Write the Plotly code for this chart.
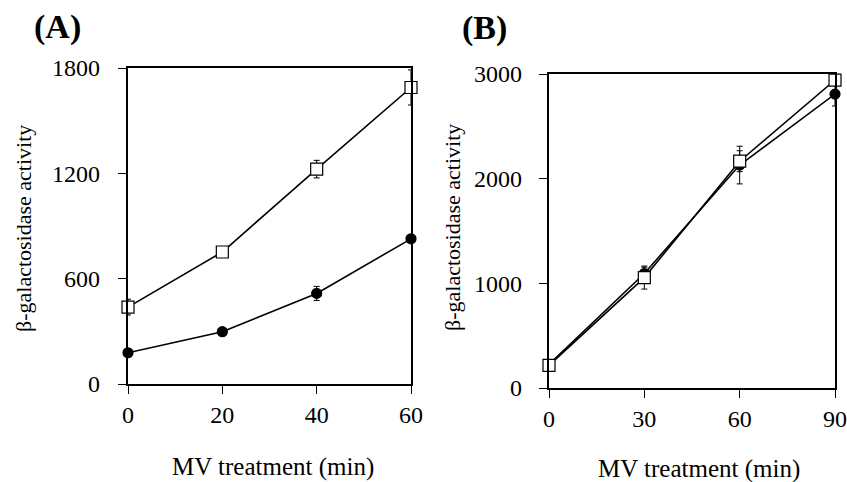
import plotly.graph_objects as go

# Panel A data
a_time = [0, 20, 40, 60]
a_open = [438, 752, 1224, 1689]
a_open_err = [45, 20, 50, 100]
a_filled = [178, 298, 516, 827]
a_filled_err = [15, 15, 40, 20]

# Panel B data
b_time = [0, 30, 60, 90]
b_open = [217, 1055, 2167, 2942]
b_open_err = [30, 110, 100, 30]
b_filled = [225, 1094, 2130, 2808]
b_filled_err = [30, 60, 180, 114]

a_yticks = [0, 600, 1200, 1800]
b_yticks = [0, 1000, 2000, 3000]

FONT = "Liberation Serif"
W, H = 847, 482

fig = go.Figure()

def add_series(x, y, err, symbol, fill, xa, ya):
    fig.add_trace(go.Scatter(
        x=x, y=y, mode="lines+markers", xaxis=xa, yaxis=ya,
        line=dict(color="black", width=1.6),
        marker=dict(symbol=symbol, size=12 if symbol == "square" else 10,
                    color=fill, line=dict(color="black", width=1.2)),
        error_y=dict(type="data", array=err, visible=True, color="black",
                     thickness=1, width=3),
        cliponaxis=False, showlegend=False))

add_series(a_time, a_filled, a_filled_err, "circle", "black", "x", "y")
add_series(a_time, a_open, a_open_err, "square", "white", "x", "y")
add_series(b_time, b_filled, b_filled_err, "circle", "black", "x2", "y2")
add_series(b_time, b_open, b_open_err, "square", "white", "x2", "y2")

axis_common = dict(showline=True, linecolor="black", linewidth=2.2, mirror=True,
                   ticks="outside", ticklen=8, tickwidth=1, tickcolor="black",
                   showgrid=False, zeroline=False, automargin=False,
                   tickfont=dict(family=FONT, size=24, color="black"))

fig.update_layout(
    width=W, height=H, margin=dict(l=0, r=0, t=0, b=0, autoexpand=False),
    paper_bgcolor="white", plot_bgcolor="white",
    xaxis=dict(domain=[128/W, 411/W], range=[0, 60], tickvals=a_time,
               anchor="y", ticklabelstandoff=0, **axis_common),
    yaxis=dict(domain=[1-384/H, 1-68/H], range=[0, 1800], tickvals=a_yticks,
               anchor="x", ticklabelstandoff=13, **axis_common),
    xaxis2=dict(domain=[549/W, 835/W], range=[0, 90], tickvals=b_time,
                anchor="y2", ticklabelstandoff=0, **axis_common),
    yaxis2=dict(domain=[1-388/H, 1-74/H], range=[0, 3000], tickvals=b_yticks,
                anchor="x2", ticklabelstandoff=12, **axis_common),
)

def ann(text, x, y, size, angle=0, bold=False):
    fig.add_annotation(text=f"<b>{text}</b>" if bold else text,
                       x=x/W, y=1-y/H, xref="paper", yref="paper",
                       showarrow=False, textangle=angle,
                       xanchor="center", yanchor="middle",
                       font=dict(family=FONT, size=size, color="black"))

ann("(A)", 57, 27, 34, bold=True)
ann("(B)", 484, 28, 34, bold=True)
ann("β-galactosidase activity", 23, 229, 22, angle=-90)
ann("β-galactosidase activity", 452, 228, 22, angle=-90)
ann("MV treatment (min)", 273, 467, 25)
ann("MV treatment (min)", 699, 469, 25)

fig.write_html("out.html")
